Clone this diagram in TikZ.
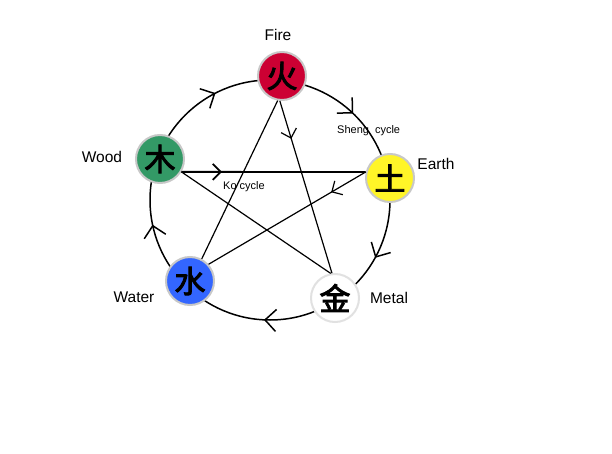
\documentclass[tikz,border=0pt]{standalone}
\usepackage{fontspec}
\setmainfont{Liberation Sans}
\newfontfamily\cjk[FakeBold=3]{Noto Sans CJK SC}
\usetikzlibrary{arrows.meta,decorations.markings}
\definecolor{firered}{RGB}{204,0,51}
\definecolor{earthyellow}{RGB}{255,245,40}
\definecolor{waterblue}{RGB}{51,102,255}
\definecolor{woodgreen}{RGB}{51,153,102}
\definecolor{rimgray}{RGB}{200,200,200}
\definecolor{rimlight}{RGB}{225,225,225}
\begin{document}
\begin{tikzpicture}[x=1pt,y=-1pt,
  element/.style={circle, minimum size=48pt, inner sep=0pt, draw=rimgray, line width=2pt,
    font=\cjk\fontsize{31}{31}\selectfont},
  lbl/.style={inner sep=0pt, font=\fontsize{15.5}{16}\selectfont},
  cyc/.style={inner sep=0pt, font=\fontsize{11}{12}\selectfont},
  ring/.style={line width=1.5pt, postaction={decorate}, decoration={markings,
    mark=at position 0.08 with {\arrow{Straight Barb[length=11pt,width=22pt]}},
    mark=at position 0.258 with {\arrow{Straight Barb[length=11pt,width=22pt]}},
    mark=at position 0.467 with {\arrow{Straight Barb[length=11pt,width=22pt]}},
    mark=at position 0.675 with {\arrow{Straight Barb[length=11pt,width=22pt]}},
    mark=at position 0.872 with {\arrow{Straight Barb[length=11pt,width=22pt]}}}},
  ko/.style={line width=1.2pt},
  koarrow/.style={line width=1.2pt, postaction={decorate}, decoration={markings,
    mark=at position 0.22 with {\arrow{Straight Barb[length=8pt,width=16pt]}}}}
]
\fill[white] (0,0) rectangle (612,454);
\useasboundingbox (0,0) rectangle (612,454);

% Sheng cycle ring
\draw[ring] (270,200) circle [radius=120];

% elements
\node[element, fill=firered] (fire) at (282,76) {火};
\node[element, fill=earthyellow] (earth) at (390,178) {土};
\node[element, fill=white, draw=rimlight] (metal) at (335,298) {金};
\node[element, fill=waterblue] (water) at (190,281) {水};
\node[element, fill=woodgreen] (wood) at (160,159) {木};

% labels
\node[lbl] (tfire) at (278,35) {Fire};
\node[lbl] (tearth) at (436,164) {Earth};
\node[lbl] (tmetal) at (389,298) {Metal};
\node[lbl] (twater) at (134,297) {Water};
\node[lbl] (twood) at (102,157) {Wood};

% Ko cycle star
\draw[koarrow, line width=1.8pt] (wood.-31) -- (earth.166);
\draw[koarrow] (earth.166) -- (water.42);
\draw[koarrow] (fire.-95) -- (metal.97);
\draw[ko] (wood.-31) -- (metal.100);
\draw[ko] (water.62) -- (fire.-100);

% cycle labels
\node[cyc, anchor=west] (sheng) at (337,131) {Sheng\hspace{6pt}cycle};
\node[cyc] (kolbl) at (244,187) {Ko cycle};
\end{tikzpicture}
\end{document}
